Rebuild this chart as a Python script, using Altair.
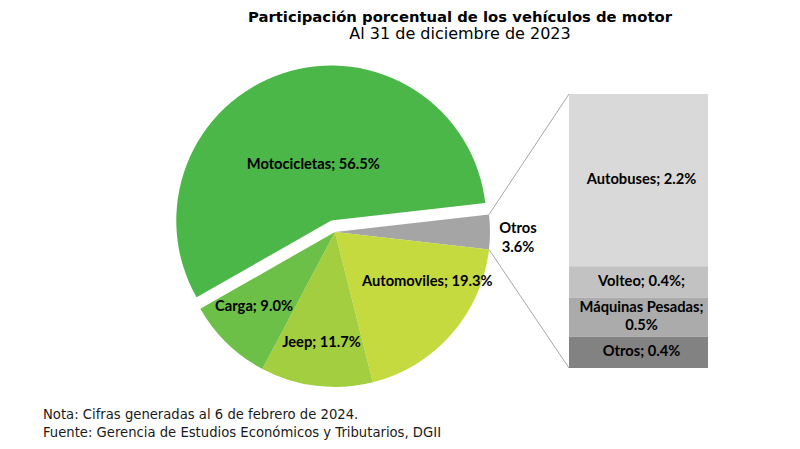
import math
import altair as alt
import pandas as pd

# ---- data ----
title_text = "Participación porcentual de los vehículos de motor"
subtitle_text = "Al 31 de diciembre de 2023"

pie_cats = ["Otros", "Automoviles", "Jeep", "Carga", "Motocicletas"]
pie_vals = [3.6, 19.3, 11.7, 9.0, 56.5]

bar_cats = ["Autobuses", "Volteo", "Máquinas Pesadas", "Otros"]
bar_vals = [2.2, 0.4, 0.5, 0.4]
bar_labels = ["Autobuses; 2.2%", "Volteo; 0.4%;", "Máquinas Pesadas;\n0.5%", "Otros; 0.4%"]

notes = [
    "Nota: Cifras generadas al 6 de febrero de 2024.",
    "Fuente: Gerencia de Estudios Económicos y Tributarios, DGII",
]

# ---- styles / layout ----
pie_colors = ["#A5A5A5", "#C5DA3F", "#A3CE3F", "#6CBF47", "#4BB749"]
bar_colors = ["#D9D9D9", "#C2C2C2", "#ABABAB", "#828282"]
LBL_FONT = "Lato"
LBL_SIZE = 14.7
W, H = 784, 393
PAD_TOP = 40
cx, cy = 327, 184          # pie centre (view coords)
R = 155
EXPLODE = 12
bar_x0, bar_x1 = 561, 700
bar_top, bar_bot = 46, 320

total = sum(pie_vals)
start = math.radians(90) - (pie_vals[0] / total) * math.pi
theta_scale = alt.Scale(domain=[0, total], range=[start, start + 2 * math.pi])

moto_mid = start + (total - pie_vals[-1] / 2) / total * 2 * math.pi
mdx = EXPLODE * math.sin(moto_mid)
mdy = -EXPLODE * math.cos(moto_mid)

pie_df = pd.DataFrame({"cat": pie_cats, "val": pie_vals, "idx": list(range(len(pie_cats)))})
bar_total = sum(bar_vals)
bar_df = pd.DataFrame({"bcat": bar_cats, "val": bar_vals, "idx": list(range(len(bar_cats))), "lbl": bar_labels})

base = (
    alt.Chart(pie_df)
    .transform_window(cum="sum(val)", sort=[alt.SortField("idx", order="ascending")], frame=[None, 0])
    .transform_calculate(
        start="datum.cum - datum.val",
        mid="datum.cum - datum.val / 2",
        lbl="datum.cat + '; ' + format(datum.val, '.1f') + '%'",
        lbl2="[datum.cat, format(datum.val, '.1f') + '%']",
    )
)

pie_color = alt.Color("cat:N", scale=alt.Scale(domain=pie_cats, range=pie_colors), legend=None)

arcs_rest = base.transform_filter("datum.cat != 'Motocicletas'").mark_arc(outerRadius=R, strokeWidth=0).encode(
    theta=alt.Theta("start:Q", scale=theta_scale, stack=False),
    theta2=alt.Theta2("cum:Q"),
    color=pie_color,
    x=alt.value(cx), y=alt.value(cy),
)
arcs_moto = base.transform_filter("datum.cat == 'Motocicletas'").mark_arc(outerRadius=R, strokeWidth=0).encode(
    theta=alt.Theta("start:Q", scale=theta_scale, stack=False),
    theta2=alt.Theta2("cum:Q"),
    color=pie_color,
    x=alt.value(cx + mdx), y=alt.value(cy + mdy),
)

txt = dict(font=LBL_FONT, fontSize=LBL_SIZE, fontWeight="bold", color="#000000", align="center", baseline="middle")


def pie_label(flt, radius, field="lbl:N", center=(cx, cy), **kw):
    return base.transform_filter(flt).mark_text(radius=radius, **txt, **kw).encode(
        theta=alt.Theta("mid:Q", scale=theta_scale, stack=False), text=alt.Text(field),
        x=alt.value(center[0]), y=alt.value(center[1]),
    )


lbl_moto = pie_label("datum.cat == 'Motocicletas'", 58, center=(cx + mdx, cy + mdy))
lbl_jeep = pie_label("datum.cat == 'Jeep'", 112)
lbl_carga = pie_label("datum.cat == 'Carga'", 112, dx=-3, dy=-5)
lbl_auto = pie_label("datum.cat == 'Automoviles'", 100, dx=17, dy=-16)
lbl_otros = pie_label("datum.cat == 'Otros'", 183, field="lbl2:N", dy=-3, lineHeight=19)

# ---- bar of pie ----
bbase = (
    alt.Chart(bar_df)
    .transform_window(top="sum(val)", sort=[alt.SortField("idx", order="descending")], frame=[None, 0])
    .transform_calculate(bot="datum.top - datum.val", bmid="datum.top - datum.val / 2")
)
yscale = alt.Scale(domain=[0, bar_total], range=[bar_bot, bar_top])
bars = bbase.mark_rect(strokeWidth=0).encode(
    x=alt.value(bar_x0), x2=alt.value(bar_x1),
    y=alt.Y("bot:Q", scale=yscale, axis=None), y2="top:Q",
    color=alt.Color("bcat:N", scale=alt.Scale(domain=bar_cats, range=bar_colors), legend=None),
)
bar_txt_1 = bbase.transform_filter("indexof(datum.lbl, '\\n') < 0").mark_text(**txt).encode(
    x=alt.value((bar_x0 + bar_x1) / 2 + 3),
    y=alt.Y("bmid:Q", scale=yscale, axis=None),
    text="lbl:N",
)
bar_txt_2 = bbase.transform_filter("indexof(datum.lbl, '\\n') >= 0").mark_text(
    lineBreak="\n", lineHeight=18, dy=-9, **txt
).encode(
    x=alt.value((bar_x0 + bar_x1) / 2 + 3),
    y=alt.Y("bmid:Q", scale=yscale, axis=None),
    text="lbl:N",
)

# ---- connectors ----
p_top = (cx + R * math.sin(start), cy - R * math.cos(start))
end_otros = start + pie_vals[0] / total * 2 * math.pi
p_bot = (cx + R * math.sin(end_otros), cy - R * math.cos(end_otros))
one = pd.DataFrame({"k": [0]})
conn1 = alt.Chart(one).mark_rule(color="#A6A6A6", strokeWidth=1).encode(
    x=alt.value(p_top[0]), y=alt.value(p_top[1]), x2=alt.value(bar_x0), y2=alt.value(bar_top))
conn2 = alt.Chart(one).mark_rule(color="#A6A6A6", strokeWidth=1).encode(
    x=alt.value(p_bot[0]), y=alt.value(p_bot[1]), x2=alt.value(bar_x0), y2=alt.value(bar_bot))

# ---- notes ----
note_df = pd.DataFrame({"t": ["\n".join(notes)]})
note = alt.Chart(note_df).mark_text(
    align="left", baseline="alphabetic", font="DejaVu Sans", fontSize=13.2,
    lineBreak="\n", lineHeight=18, color="#1a1a1a",
).encode(x=alt.value(35), y=alt.value(371), text="t:N")

chart = (
    alt.layer(conn1, conn2, arcs_rest, arcs_moto, bars,
              lbl_moto, lbl_jeep, lbl_carga, lbl_auto, lbl_otros, bar_txt_1, bar_txt_2, note)
    .resolve_scale(color="independent")
    .properties(
        width=W, height=H,
        autosize=alt.AutoSizeParams(type="none"),
        padding={"left": 0, "top": PAD_TOP, "right": 0, "bottom": 0},
        title=alt.Title(
            text=title_text, subtitle=subtitle_text, anchor="middle", dx=60,
            font="DejaVu Sans", fontSize=14.8, fontWeight="bold", color="#000000",
            subtitleFont="DejaVu Sans", subtitleFontSize=16, subtitleColor="#000000",
            subtitlePadding=1, offset=6,
        ),
    )
    .configure_view(stroke=None)
)

chart.save("out.html", embed_options={"renderer": "svg", "actions": False})
